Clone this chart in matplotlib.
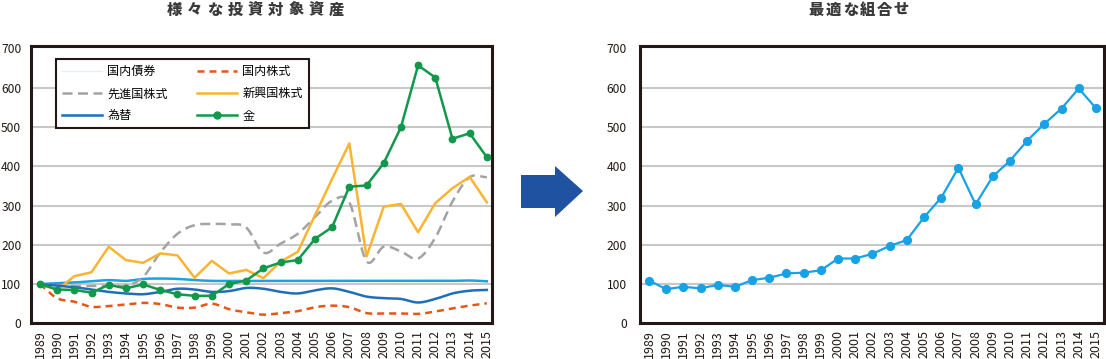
import numpy as np
import matplotlib
matplotlib.use("Agg")
import matplotlib.pyplot as plt
from matplotlib.lines import Line2D
from matplotlib.patches import Polygon

plt.rcParams['font.family'] = ['Noto Sans CJK JP', 'DejaVu Sans']

years = list(range(1989, 2016))

# left chart: various assets (1989 = 100)
bonds = [100, 102, 104, 107, 110, 108, 113, 114, 113, 110, 108, 108, 108, 108, 108, 108, 108,
         108, 108, 108, 108, 108, 108, 108, 108, 109, 107]
dom_stock = [100, 64, 55, 42, 44, 48, 52, 49, 40, 40, 50, 36, 28, 22, 26, 31, 41,
             45, 41, 26, 25, 25, 24, 30, 38, 45, 51]
dev_stock = [100, 97, 95, 95, 96, 96, 118, 180, 228, 250, 253, 252, 244, 180, 203, 228, 270,
             312, 308, 158, 195, 183, 165, 218, 310, 372, 372]
emg_stock = [100, 85, 120, 130, 195, 161, 154, 178, 173, 116, 159, 127, 136, 115, 157, 182, 275,
             368, 458, 170, 297, 304, 232, 306, 344, 373, 308]
fx = [100, 96, 92, 86, 80, 76, 74, 80, 88, 86, 80, 82, 90, 88, 80, 76, 84,
      89, 80, 68, 64, 62, 53, 62, 76, 83, 85]
gold = [100, 86, 85, 78, 98, 89, 99, 85, 74, 70, 70, 100, 109, 140, 155, 161, 215,
        245, 348, 351, 408, 499, 657, 626, 470, 484, 423]

# right chart: optimal mix
optimal = [109, 87, 93, 89, 98, 93, 110, 116, 127, 129, 135, 165, 165, 177, 197, 212, 270,
           320, 396, 303, 374, 414, 465, 508, 547, 598, 548]

labels = ['国内債券', '国内株式', '先進国株式', '新興国株式', '為替', '金']

C_BOND = '#1aa3e3'
C_DOM = '#ea5514'
C_DEV = '#a3a3a3'
C_EMG = '#fbb432'
C_FX = '#1f6fb8'
C_GOLD = '#12984a'
C_OPT = '#17a2e6'
FRAME = '#231815'


def smooth(x, y, n=24):
    # Bezier smoothing through every point (like a spreadsheet "smoothed line")
    x = np.asarray(x, float)
    y = np.asarray(y, float)
    px = np.concatenate([[2 * x[0] - x[1]], x, [2 * x[-1] - x[-2]]])
    py = np.concatenate([[2 * y[0] - y[1]], y, [2 * y[-1] - y[-2]]])
    t = np.linspace(0, 1, n, endpoint=False)[:, None]
    xs, ys = [], []
    for i in range(1, len(px) - 2):
        p0 = np.array([px[i - 1], py[i - 1]])
        p1 = np.array([px[i], py[i]])
        p2 = np.array([px[i + 1], py[i + 1]])
        p3 = np.array([px[i + 2], py[i + 2]])
        c1 = p1 + (p2 - p0) / 6
        c2 = p2 - (p3 - p1) / 6
        pts = ((1 - t) ** 3) * p1 + 3 * ((1 - t) ** 2) * t * c1 + 3 * (1 - t) * t ** 2 * c2 + t ** 3 * p2
        xs.append(pts[:, 0])
        ys.append(pts[:, 1])
    xs.append([x[-1]])
    ys.append([y[-1]])
    return np.concatenate(xs), np.concatenate(ys)


def style_axes(ax, xmax, ypad):
    ax.set_xlim(1988.48, xmax)
    ax.set_ylim(0, 707)
    ax.set_yticks(range(0, 701, 100))
    ax.set_xticks(years)
    ax.set_xticklabels([str(y) for y in years], rotation=90, fontsize=9, color='#231815')
    ax.tick_params(axis='y', length=0, pad=ypad, labelsize=8.7, labelcolor='#231815')
    ax.tick_params(axis='x', length=0, pad=5)
    for v in range(100, 700, 100):
        ax.axhline(v, color='#c8c8c8', lw=1.5, zorder=1)
    for s in ax.spines.values():
        s.set_color(FRAME)
        s.set_linewidth(2.2)


def spaced_title(fig, text, x0, step, y):
    for i, ch in enumerate(text):
        fig.text((x0 + i * step) / 1106, 1 - y / 359, ch, ha='center', va='center',
                 fontsize=11, fontweight='black', color='#3a3a3a')


fig = plt.figure(figsize=(11.06, 3.59), dpi=100)
ax1 = fig.add_axes([31 / 1106, 1 - 323.3 / 359, 461 / 1106, 277.6 / 359])
ax2 = fig.add_axes([640 / 1106, 1 - 323.3 / 359, 464 / 1106, 277.6 / 359])

style_axes(ax1, 2015.3, 7)
style_axes(ax2, 2015.47, 9.5)

lw = 1.8
sx, sy = smooth(years, bonds)
ax1.plot(sx, sy, color=C_BOND, lw=lw, zorder=3)
sx, sy = smooth(years, dom_stock)
ax1.plot(sx, sy, color=C_DOM, lw=lw, dashes=(2.8, 2), zorder=3)
sx, sy = smooth(years, dev_stock)
ax1.plot(sx, sy, color=C_DEV, lw=lw, dashes=(4, 2.2), zorder=3)
ax1.plot(years, emg_stock, color=C_EMG, lw=lw, zorder=4)
sx, sy = smooth(years, fx)
ax1.plot(sx, sy, color=C_FX, lw=lw, zorder=4)
ax1.plot(years, gold, color=C_GOLD, lw=lw, marker='o', markersize=4.6, zorder=5)

handles = [
    Line2D([], [], color='#dff2f2', lw=1.0),
    Line2D([], [], color=C_DEV, lw=lw, dashes=(4, 2.2)),
    Line2D([], [], color=C_FX, lw=lw),
    Line2D([], [], color=C_DOM, lw=lw, dashes=(2.8, 2)),
    Line2D([], [], color=C_EMG, lw=lw),
    Line2D([], [], color=C_GOLD, lw=lw, marker='o', markersize=5),
]
order = [labels[0], labels[2], labels[4], labels[1], labels[3], labels[5]]
leg = ax1.legend(handles, order, ncol=2, loc='upper left', bbox_to_anchor=(0.054, 0.951),
                 borderaxespad=0, fontsize=8.7, handlelength=3.3, handletextpad=0.45,
                 columnspacing=2.4, labelspacing=0.74, borderpad=0.5, fancybox=False,
                 framealpha=1, edgecolor=FRAME)
leg.get_frame().set_linewidth(1.5)
leg.set_zorder(6)

ax2.plot(years, optimal, color=C_OPT, lw=1.6, marker='o', markersize=5.6, zorder=4)

spaced_title(fig, '様々な投資対象資産', 174.5, 20.2, 10)
spaced_title(fig, '最適な組合せ', 816.5, 17, 10)

arrow = [(521, 175), (555, 175), (555, 166), (583, 191), (555, 217), (555, 208), (521, 208)]
fig.patches.append(Polygon([(x / 1106, 1 - y / 359) for x, y in arrow], closed=True,
                           transform=fig.transFigure, facecolor='#1f52a0', edgecolor='none'))

fig.savefig('out.png', dpi=100)
